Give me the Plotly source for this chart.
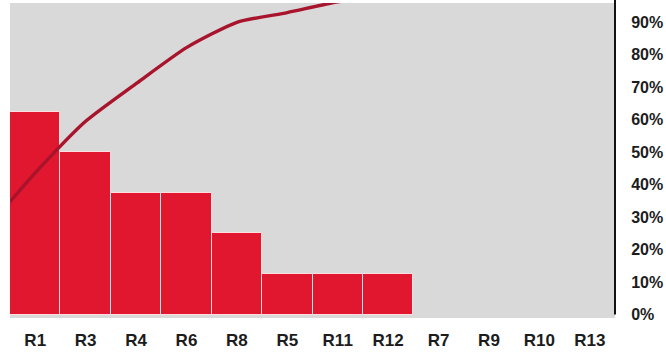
import plotly.graph_objects as go

categories = ["R1", "R3", "R4", "R6", "R8", "R5", "R11", "R12", "R7", "R9", "R10", "R13"]
bar_pct = [62.5, 50, 37.5, 37.5, 25, 12.5, 12.5, 12.5, 0, 0, 0, 0]
line_pct = [43.6, 59.5, 71.1, 82.2, 90.0, 93.0, 96.3, 98.5, 100, 100, 100, 100]
line_start_pct = 34.7  # value where the curve meets the left edge of the plot
y_ticks = [0, 10, 20, 30, 40, 50, 60, 70, 80, 90]
y_tick_text = [f"{v}%" for v in y_ticks]

idx = list(range(len(categories)))
y_range = [-1.07, 95.95]

fig = go.Figure()
fig.add_trace(go.Bar(
    x=idx, y=bar_pct,
    marker=dict(color="#E1172F",
                line=dict(color="rgba(255,228,228,0.95)",
                          width=[1 if v > 0 else 0 for v in bar_pct])),
    width=1.0,
))
fig.add_trace(go.Scatter(
    x=[idx[0] - 0.5] + idx, y=[line_start_pct] + line_pct,
    mode="lines", line=dict(color="#A8142C", width=3.4, shape="spline", smoothing=0.6),
))

fig.update_layout(
    width=666, height=353,
    margin=dict(l=10, r=50, t=3, b=33),
    paper_bgcolor="white", plot_bgcolor="#D9D9D9",
    showlegend=False, bargap=0,
    font=dict(family="Liberation Sans, Arial, sans-serif", color="#1c1c1c", size=16, weight="bold"),
    xaxis=dict(
        range=[-0.5, len(categories) - 0.5], tickvals=idx, ticktext=categories,
        showgrid=False, zeroline=False, showline=False,
        ticks="outside", ticklen=7, tickcolor="rgba(0,0,0,0)",
        tickfont=dict(size=17, weight="bold"),
    ),
    yaxis=dict(
        side="right", range=y_range, tickvals=y_ticks, ticktext=y_tick_text,
        showgrid=False, zeroline=False, showline=False,
        ticks="outside", ticklen=12, tickcolor="rgba(0,0,0,0)",
        tickfont=dict(size=16, weight="bold"),
    ),
)

zero_frac = (0 - y_range[0]) / (y_range[1] - y_range[0])
fig.add_shape(type="line", xref="paper", yref="paper", x0=1, x1=1, y0=zero_frac, y1=1.01,
              line=dict(color="#111111", width=2))

fig.write_html("out.html")
